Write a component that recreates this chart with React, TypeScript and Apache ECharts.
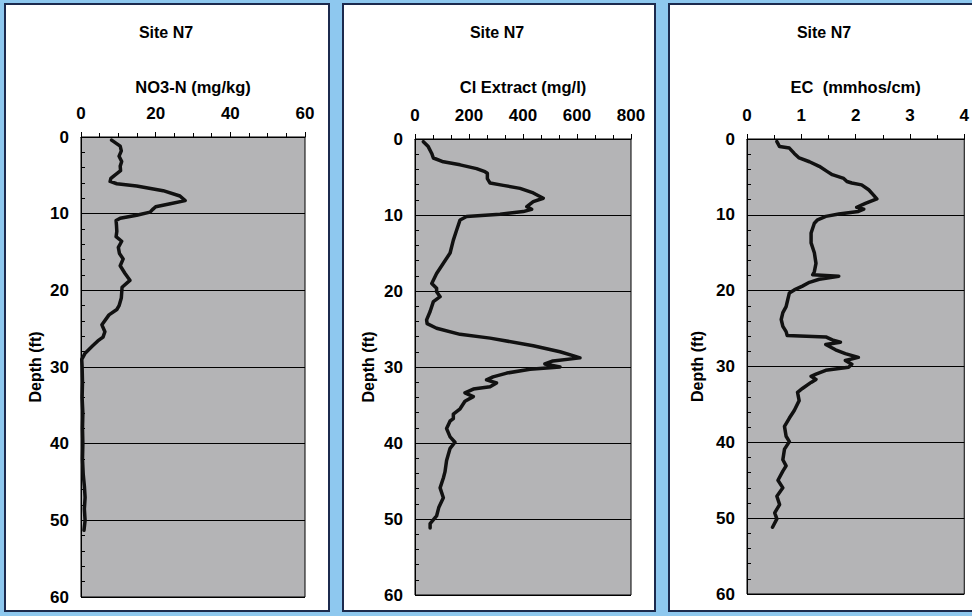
import React, { useEffect, useRef } from "react";
import * as echarts from "echarts";

const depthTicks = [0, 10, 20, 30, 40, 50, 60];

const no3Depth = [0.4, 1.2, 1.8, 2.5, 3.2, 3.8, 4.4, 5.0, 5.4, 5.8, 6.1, 6.4, 7.0, 7.7, 8.3, 8.7, 9.1, 9.4, 9.8, 10.2, 10.6, 10.9, 11.5, 12.3, 13.0, 13.6, 14.4, 15.2, 15.9, 16.8, 17.8, 18.7, 19.6, 21.0, 22.0, 22.5, 23.2, 24.5, 25.4, 26.1, 26.6, 27.2, 28.2, 29.0, 30, 32, 34, 36, 38, 40, 42, 44, 45.5, 47, 48.5, 50, 51.3];
const no3Values = [8.2, 10.5, 10.8, 10.2, 10.9, 10.5, 10.6, 9.0, 8.0, 7.8, 9.6, 14.9, 22.0, 26.5, 27.9, 23.9, 20.0, 19.3, 18.5, 14.9, 10.5, 9.4, 9.5, 9.6, 9.4, 10.9, 10.0, 10.3, 11.3, 10.5, 11.8, 13.1, 11.0, 10.8, 10.2, 9.6, 7.5, 5.6, 6.4, 5.9, 4.5, 3.2, 1.1, 0.2, 0.3, 0.4, 0.3, 0.5, 0.4, 0.5, 0.4, 0.6, 0.9, 1.1, 0.9, 1.1, 0.8];

const clDepth = [0.35, 1.0, 1.9, 2.5, 3.0, 3.4, 3.9, 4.3, 4.5, 5.2, 5.8, 6.1, 6.5, 7.1, 7.8, 8.25, 8.9, 9.25, 9.55, 9.9, 10.2, 10.65, 12.0, 13.3, 15.0, 16.35, 17.7, 19.0, 19.65, 20.1, 20.75, 21.4, 22.7, 23.8, 24.3, 24.9, 25.7, 26.2, 27.2, 28.0, 28.5, 28.8, 29.2, 29.6, 30.0, 30.3, 30.8, 31.3, 31.7, 32.1, 32.6, 32.9, 33.4, 33.9, 34.5, 35.5, 36.2, 36.8, 37.1, 38.1, 39.2, 39.9, 40.7, 42.3, 43.8, 44.6, 45.9, 47.2, 48.5, 49.6, 50.6, 51.2];
const clValues = [31, 49, 62, 68, 105, 167, 228, 259, 268, 268, 278, 327, 389, 438, 475, 438, 414, 432, 401, 315, 191, 167, 154, 142, 130, 105, 80, 62, 80, 80, 93, 68, 56, 43, 45, 80, 167, 278, 438, 537, 585, 611, 511, 481, 537, 426, 340, 289, 265, 302, 278, 216, 185, 216, 185, 167, 142, 142, 130, 117, 130, 148, 130, 117, 111, 105, 93, 105, 88, 80, 56, 56];

const ecDepth = [0.35, 1.0, 1.2, 1.9, 2.5, 3.0, 3.6, 4.3, 4.7, 5.2, 5.6, 5.8, 6.05, 6.7, 7.4, 7.9, 8.5, 9.0, 9.25, 9.55, 9.9, 10.2, 10.65, 11.1, 12.4, 13.7, 15.0, 16.4, 17.5, 17.9, 18.1, 18.5, 18.9, 19.4, 19.9, 20.3, 21.2, 22.1, 22.9, 23.8, 24.7, 25.4, 25.9, 26.1, 26.5, 26.8, 27.1, 27.8, 28.3, 28.8, 29.2, 29.7, 30.1, 30.5, 31.0, 31.3, 31.7, 32.1, 32.9, 33.4, 34.5, 35.8, 36.8, 37.9, 39.2, 39.9, 40.9, 42.3, 43.1, 43.8, 45.0, 46.0, 47.1, 48.2, 49.3, 50.1, 51.2];
const ecValues = [0.55, 0.6, 0.78, 0.87, 0.96, 1.15, 1.33, 1.48, 1.57, 1.78, 1.84, 1.93, 2.11, 2.24, 2.33, 2.39, 2.18, 2.02, 2.15, 2.05, 1.69, 1.45, 1.30, 1.24, 1.18, 1.18, 1.24, 1.27, 1.24, 1.21, 1.69, 1.33, 1.15, 1.02, 0.87, 0.78, 0.75, 0.72, 0.66, 0.63, 0.66, 0.72, 0.74, 1.45, 1.57, 1.72, 1.45, 1.63, 1.81, 2.05, 1.81, 1.93, 1.87, 1.45, 1.27, 1.18, 1.27, 1.18, 1.02, 0.93, 0.96, 0.87, 0.78, 0.69, 0.72, 0.78, 0.69, 0.66, 0.72, 0.66, 0.57, 0.66, 0.55, 0.60, 0.51, 0.55, 0.47];

const siteTitle = "Site N7";
const axisNames = ["NO3-N (mg/kg)", "Cl Extract (mg/l)", "EC  (mmhos/cm)"];
const xMax = [60, 800, 4];
const xInterval = [20, 200, 1];
const xMinorSplit = [4, 3, 2];
const depthLabel = "Depth (ft)";

const FONT = "'Liberation Sans', Arial, sans-serif";

export default function App() {
  const ref = useRef<HTMLDivElement>(null);
  useEffect(() => {
    if (!ref.current) return;
    const chart = echarts.init(ref.current, null, { renderer: "svg" });

    const grids = [
      { left: 81, top: 137, width: 224, height: 460 },
      { left: 415, top: 139, width: 216, height: 456 },
      { left: 747, top: 139, width: 220, height: 455 },
    ];
    const panels = [
      { x: 5, y: 4, w: 324, h: 607 },
      { x: 343, y: 4, w: 312, h: 607 },
      { x: 669, y: 4, w: 310, h: 607 },
    ];
    const titleX = [166, 497, 824];
    const depthX = [35, 368, 697];
    const seriesData = [
      no3Depth.map((d, i) => [no3Values[i], d]),
      clDepth.map((d, i) => [clValues[i], d]),
      ecDepth.map((d, i) => [ecValues[i], d]),
    ];

    const textStyle = { color: "#000", fontFamily: FONT, fontWeight: "bold" as const };

    chart.setOption({
      animation: false,
      backgroundColor: "#8ec8ef",
      graphic: [
        ...panels.map((p) => ({
          type: "rect",
          shape: { x: p.x, y: p.y, width: p.w, height: p.h },
          style: { fill: "#ffffff", stroke: "#1c2a4e", lineWidth: 2 },
          z: -10,
        })),
        ...depthX.map((x, i) => ({
          type: "text",
          x,
          y: (grids[i].top + grids[i].top + grids[i].height) / 2,
          rotation: Math.PI / 2,
          style: {
            text: depthLabel,
            font: `bold 16px ${FONT}`,
            fill: "#000",
            textAlign: "center",
            textVerticalAlign: "middle",
          },
        })),
      ],
      title: titleX.map((x) => ({
        text: siteTitle,
        left: x,
        top: 24,
        padding: 0,
        textAlign: "center",
        textStyle: { ...textStyle, fontSize: 16 },
      })),
      grid: grids.map((g) => ({
        ...g,
        show: true,
        backgroundColor: "#b4b4b6",
        borderColor: "#000",
        borderWidth: 1,
        containLabel: false,
      })),
      xAxis: grids.map((_, i) => ({
        type: "value",
        gridIndex: i,
        position: "top",
        min: 0,
        max: xMax[i],
        interval: xInterval[i],
        name: axisNames[i],
        nameLocation: "middle",
        nameGap: i === 0 ? 42 : 44,
        nameTextStyle: { ...textStyle, fontSize: 16.5 },
        axisLine: { show: true, lineStyle: { color: "#000", width: 1 } },
        axisTick: { show: true, inside: false, length: 5, lineStyle: { color: "#000" } },
        minorTick: { show: true, splitNumber: xMinorSplit[i], length: 4, lineStyle: { color: "#000" } },
        axisLabel: { ...textStyle, fontSize: 17, margin: 15 },
        splitLine: { show: false },
      })),
      yAxis: grids.map((_, i) => ({
        type: "value",
        gridIndex: i,
        inverse: true,
        min: depthTicks[0],
        max: depthTicks[depthTicks.length - 1],
        interval: 10,
        axisLine: { show: true, lineStyle: { color: "#000", width: 1 } },
        axisTick: { show: true, inside: true, length: 5, lineStyle: { color: "#000" } },
        minorTick: { show: true, splitNumber: 5, length: 4, lineStyle: { color: "#000" } },
        axisLabel: { ...textStyle, fontSize: 17, margin: 12 },
        splitLine: { show: true, lineStyle: { color: "#000", width: 1 } },
      })),
      series: seriesData.map((data, i) => ({
        type: "line",
        xAxisIndex: i,
        yAxisIndex: i,
        data,
        showSymbol: false,
        symbol: "none",
        lineStyle: { color: "#111", width: 3.5, join: "round", cap: "round" },
      })),
    });
    return () => chart.dispose();
  }, []);
  return (
    <div
      ref={ref}
      style={{ position: "fixed", left: 0, top: 0, width: 972, height: 616 }}
    />
  );
}
